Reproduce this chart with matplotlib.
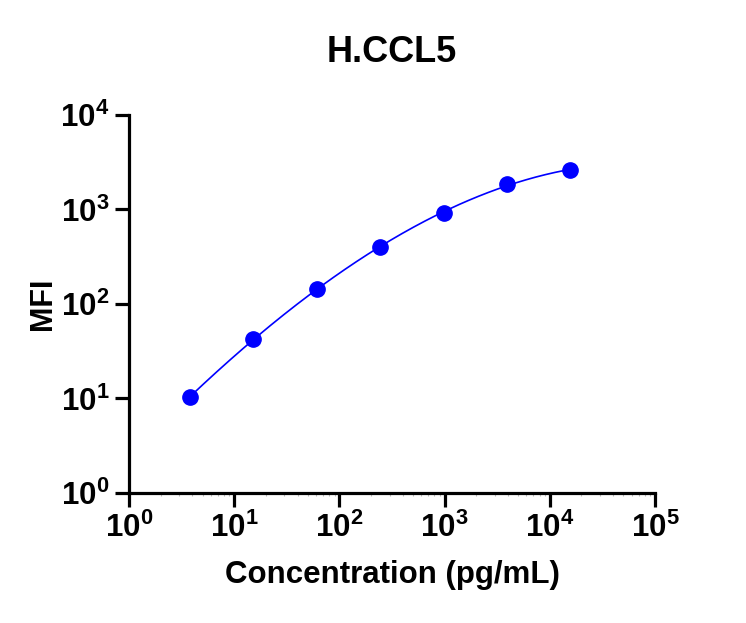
import numpy as np
import matplotlib
matplotlib.use("Agg")
import matplotlib.pyplot as plt
from matplotlib.ticker import LogLocator, NullFormatter

# standard curve data (pg/mL vs MFI)
concentration = [3.81, 15.26, 61.04, 244.1, 976.6, 3906.0, 15625.0]
mfi = [10.4, 42.6, 144.0, 401.0, 918.0, 1862.0, 2618.0]

x_ticks = [1, 10, 100, 1000, 10000, 100000]
y_ticks = [1, 10, 100, 1000, 10000]

plt.rcParams['font.family'] = ['Liberation Sans', 'DejaVu Sans']
plt.rcParams['font.weight'] = 'bold'
plt.rcParams['mathtext.fontset'] = 'custom'
plt.rcParams['mathtext.rm'] = 'Liberation Sans:bold'
plt.rcParams['mathtext.bf'] = 'Liberation Sans:bold'

fig = plt.figure(figsize=(7.46, 6.23), dpi=100)
ax = fig.add_axes([0.1729, 0.2087, 0.7051, 0.6067])

# smooth fit through the points in log-log space
lx = np.log10(concentration)
ly = np.log10(mfi)
coef = np.polyfit(lx, ly, 3)
xs = np.linspace(lx.min(), lx.max(), 200)
ax.plot(10 ** xs, 10 ** np.polyval(coef, xs), color='#0000ff', lw=1.2, zorder=2)
ax.plot(concentration, mfi, 'o', color='#0000ff', markersize=11, zorder=3,
        clip_on=False)

ax.set_xscale('log')
ax.set_yscale('log')
ax.set_xlim(1, 1e5)
ax.set_ylim(1, 1e4)

ax.set_xticks(x_ticks)
ax.set_xticklabels([r'$10^{%d}$' % int(np.log10(v)) for v in x_ticks])
ax.set_yticks(y_ticks)
ax.set_yticklabels([r'$10^{%d}$' % int(np.log10(v)) for v in y_ticks])
ax.xaxis.set_minor_locator(LogLocator(base=10, subs=np.arange(2, 10), numticks=20))
ax.xaxis.set_minor_formatter(NullFormatter())
ax.yaxis.set_minor_locator(plt.NullLocator())

for side in ['top', 'right']:
    ax.spines[side].set_visible(False)
for side in ['left', 'bottom']:
    ax.spines[side].set_linewidth(2.3)

ax.tick_params(axis='both', which='major', length=10, width=2.3,
               labelsize=22.5, pad=4, direction='out')
ax.tick_params(axis='x', which='minor', length=2, width=0.8,
               color='#bbbbbb', direction='out')

ax.set_xlabel('Concentration (pg/mL)', fontsize=22.5, fontweight='bold', labelpad=12)
ax.set_ylabel('MFI', fontsize=22, fontweight='bold', labelpad=2)
ax.set_title('H.CCL5', fontsize=26, fontweight='bold', pad=38)

fig.savefig('out.png', dpi=100)
